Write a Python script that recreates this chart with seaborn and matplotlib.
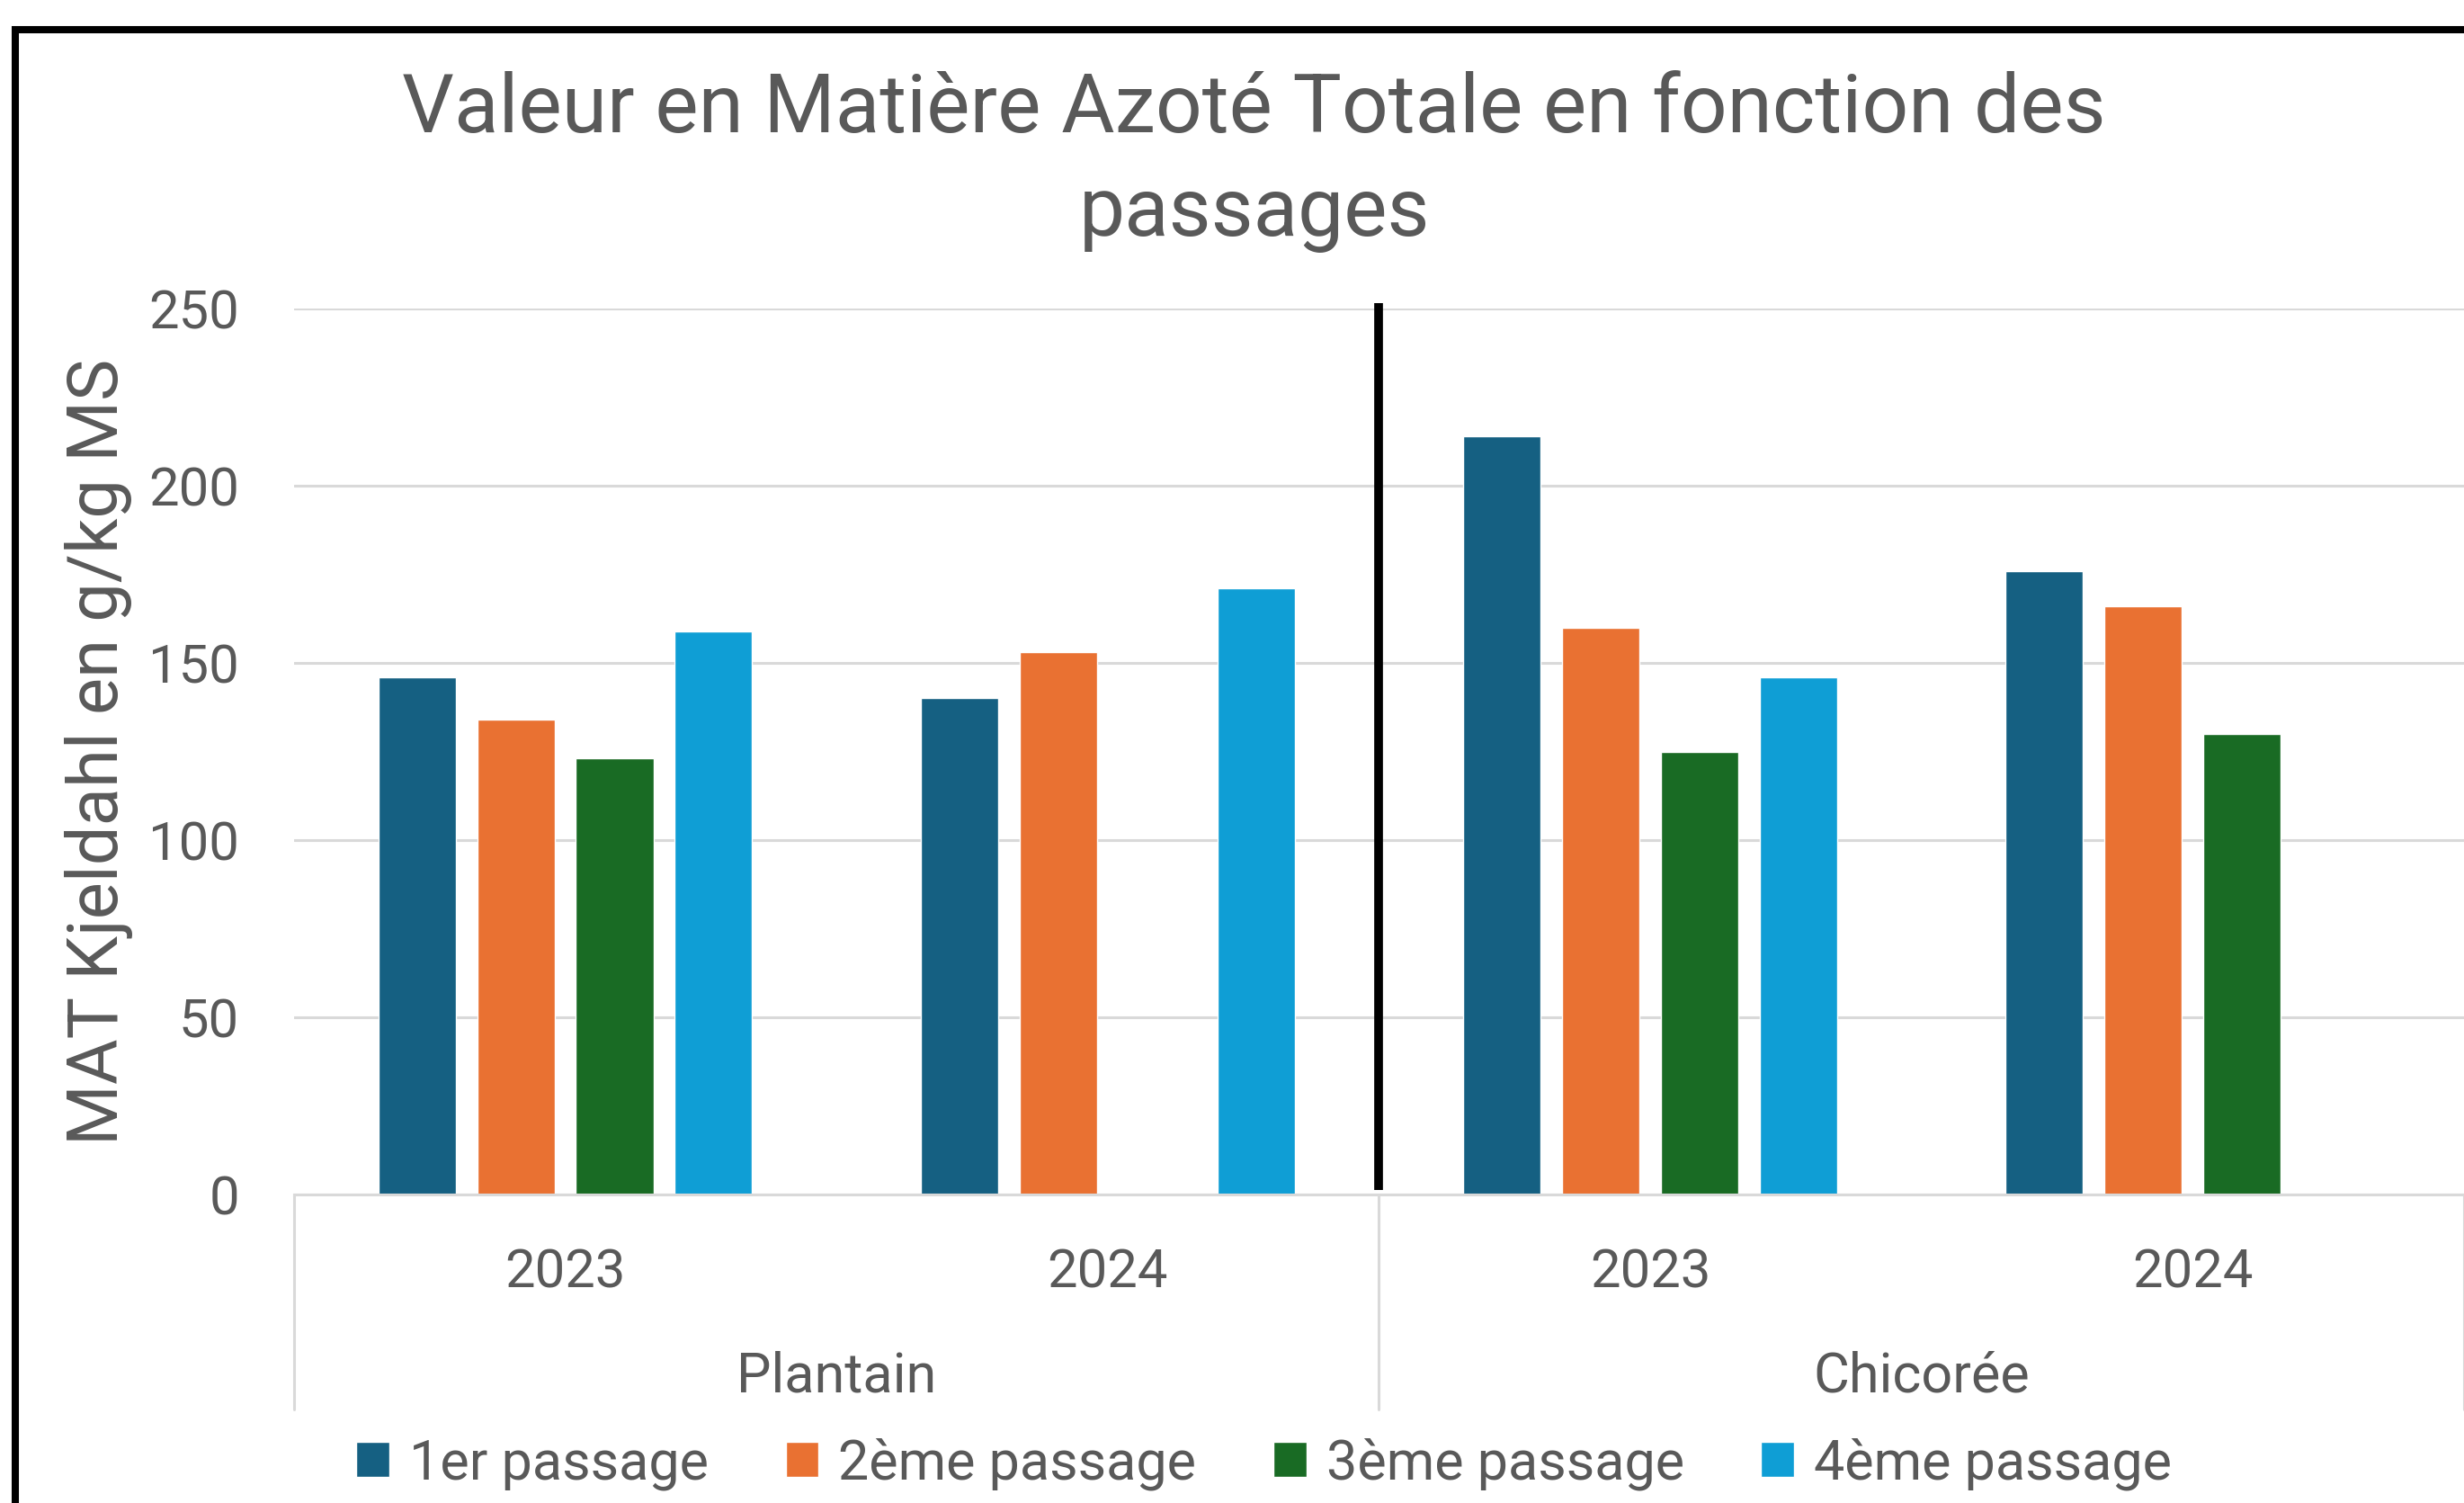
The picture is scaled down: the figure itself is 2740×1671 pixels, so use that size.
# Graphique MAT Kjeldahl par passage

import numpy as np
import pandas as pd
import seaborn as sns
import matplotlib.pyplot as plt
from matplotlib.patches import Rectangle

# Donnees
plantes = ["Plantain", "Plantain", "Chicorée", "Chicorée"]
annees = ["2023", "2024", "2023", "2024"]
passages = ["1er passage", "2ème passage", "3ème passage", "4ème passage"]
mat_1er = [146, 140, 214, 176]
mat_2eme = [134, 153, 160, 166]
mat_3eme = [123, np.nan, 125, 130]
mat_4eme = [159, 171, 146, np.nan]
couleurs = ["#156082", "#E97132", "#196B24", "#0F9ED5"]

# tableau long pour seaborn
groupes = [p + " " + a for p, a in zip(plantes, annees)]
lignes = []
for passage, valeurs in zip(passages, [mat_1er, mat_2eme, mat_3eme, mat_4eme]):
    for g, v in zip(groupes, valeurs):
        lignes.append({"groupe": g, "passage": passage, "mat": v})
df = pd.DataFrame(lignes)

sns.set_style("white")
plt.rcParams['font.family'] = ['Roboto', 'DejaVu Sans']
gris = "#595959"
grille = "#D9D9D9"

fig = plt.figure(figsize=(27.4, 16.71), dpi=100)
ax = fig.add_axes([0.1193, 0.2053, 0.8807, 0.5894])

sns.barplot(data=df, x="groupe", y="mat", hue="passage", order=groupes,
            hue_order=passages, palette=couleurs, width=0.729, gap=0.217,
            errorbar=None, saturation=1, ax=ax)

ax.set_xlim(-0.5, 3.5)
ax.set_ylim(0, 250)
ax.set_yticks([0, 50, 100, 150, 200, 250])
ax.yaxis.grid(True, color=grille, linewidth=2.2)
ax.set_axisbelow(True)
for s in ["top", "right", "left"]:
    ax.spines[s].set_visible(False)
ax.spines["bottom"].set_color(grille)
ax.spines["bottom"].set_linewidth(2.2)
ax.tick_params(axis="both", length=0, labelsize=43, labelcolor=gris)
ax.tick_params(axis="y", pad=44)
ax.tick_params(axis="x", pad=42)
ax.set_xticks(range(4))
ax.set_xticklabels(annees)
ax.set_xlabel("")
ax.set_ylabel("MAT Kjeldahl en g/kg MS", fontsize=56, color=gris, labelpad=12)

# separateurs et noms des plantes sous l'axe
trans = ax.get_xaxis_transform()
for xs in [-0.5, 1.5, 3.5]:
    ax.plot([xs, xs], [0, -0.2427], transform=trans, color=grille,
            linewidth=2.2, clip_on=False)
for i, plante in enumerate(["Plantain", "Chicorée"]):
    ax.text(0.5 + 2 * i, -0.206, plante, transform=trans, ha="center",
            va="center", fontsize=44, color=gris)

# trait noir entre les deux plantes
ax.plot([1.5, 1.5], [1.3, 251.5], color="black", linewidth=7,
        solid_capstyle="butt", clip_on=False)

# titre
fig.text(0.509, 0.8432, "Valeur en Matière Azoté Totale en fonction des\npassages",
         ha="center", va="baseline", fontsize=65.5, color=gris, linespacing=1.42)

# legende
handles, labels = ax.get_legend_handles_labels()
ax.get_legend().remove()
fig.legend(handles, labels, loc="center", bbox_to_anchor=(0.513, 0.026),
           ncol=4, frameon=False, fontsize=44, labelcolor=gris,
           handlelength=0.6, handleheight=0.6, handletextpad=0.36,
           columnspacing=1.4, borderpad=0)

# cadre noir
fig.patches.append(Rectangle((16.5 / 2740, -0.1), 1.2, 1.1 - 33 / 1671,
                             transform=fig.transFigure, fill=False,
                             edgecolor="black", linewidth=5.8))

fig.savefig("out.png", dpi=100)
